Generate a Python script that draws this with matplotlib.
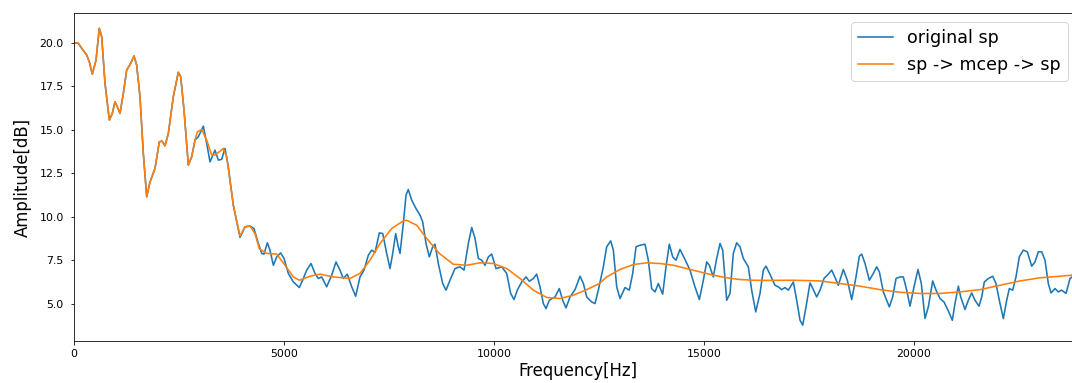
import matplotlib
matplotlib.use("Agg")
import matplotlib.pyplot as plt

# ---- data: original spectral envelope (blue) ----
orig_freq = [0, 107, 188, 307, 370, 441, 529, 607, 664, 743, 846, 917, 981, 1036, 1100, 1179, 1259, 1355, 1433, 1497,
             1576, 1655, 1736, 1814, 1933, 2036, 2100, 2171, 2251, 2369, 2488, 2545, 2624, 2727, 2807, 2886,
             2965, 3084, 3164, 3243, 3362, 3441, 3520, 3600, 3679, 3798, 3957, 4076, 4195, 4290, 4394, 4474, 4529,
             4608, 4671, 4751, 4831, 4926, 5005, 5108, 5227, 5370, 5465, 5545, 5648, 5743, 5822, 5902, 6021, 6140,
             6243, 6338, 6417, 6512, 6617, 6712, 6814, 6910, 7013, 7093, 7172, 7275, 7355, 7450, 7529, 7593, 7664,
             7726, 7767, 7846, 7910, 7964, 8045, 8147, 8243, 8307, 8386, 8465, 8545, 8600, 8679, 8784, 8862, 8957,
             9076, 9195, 9291, 9394, 9474, 9553, 9632, 9712, 9791, 9870, 9950, 10053, 10188, 10307, 10402, 10481,
             10560, 10664, 10767, 10846, 10941, 11021, 11100, 11179, 11243, 11322, 11457, 11560, 11641, 11719,
             11815, 11934, 12053, 12133, 12212, 12331, 12410, 12489, 12608, 12688, 12783, 12846, 12926, 13005,
             13124, 13227, 13307, 13386, 13481, 13600, 13679, 13759, 13838, 13917, 14021, 14100, 14179, 14260,
             14338, 14433, 14552, 14671, 14790, 14894, 14989, 15069, 15132, 15227, 15307, 15386, 15450, 15545,
             15624, 15703, 15783, 15862, 15941, 16060, 16140, 16236, 16338, 16417, 16481, 16576, 16695, 16774,
             16854, 16933, 17013, 17132, 17212, 17291, 17355, 17434, 17529, 17608, 17688, 17767, 17862, 17964,
             18045, 18124, 18203, 18322, 18417, 18522, 18624, 18703, 18760, 18839, 18941, 19036, 19117, 19180,
             19275, 19417, 19497, 19577, 19672, 19751, 19831, 19910, 20005, 20100, 20179, 20267, 20346, 20450,
             20529, 20624, 20719, 20822, 20917, 20981, 21060, 21117, 21219, 21298, 21378, 21457, 21553, 21617,
             21679, 21775, 21879, 21957, 22036, 22132, 22212, 22274, 22355, 22433, 22512, 22608, 22703, 22807,
             22886, 22965, 23045, 23124, 23203, 23267, 23362, 23441, 23521, 23624, 23719, 23800, 24000]
orig_db = [20.0, 19.97, 19.68, 19.29, 18.9, 18.2, 19.0, 20.83, 20.35, 17.67, 15.56, 15.94, 16.61, 16.32, 15.94, 17.09,
           18.43, 18.82, 19.24, 18.72, 16.9, 13.64, 11.15, 12.0, 12.78, 14.31, 14.35, 14.08, 14.79, 16.9, 18.3, 18.05,
           16.13, 12.97, 13.45, 14.41,
           14.6, 15.21, 14.22, 13.16, 13.83, 13.26, 13.3, 13.93, 12.87, 10.67, 8.82, 9.43, 9.47, 9.33, 8.47, 7.9, 7.86,
           8.51, 8.09, 7.22, 7.7, 7.93, 7.61, 6.75, 6.26, 5.94, 6.46, 6.94, 7.32, 6.75, 6.46, 6.55, 5.98, 6.65,
           7.41, 6.94, 6.46, 6.71, 5.98, 5.44, 6.55, 6.94, 7.8, 8.09, 7.95, 9.08, 9.04, 7.9, 7.03, 7.9, 9.04,
           8.28, 7.9, 9.62, 11.25, 11.57, 10.96, 10.48, 10.1, 9.71, 8.47, 7.7, 8.28, 8.43, 7.32, 6.17, 5.79, 6.36,
           7.03, 7.13, 6.94, 8.47, 9.39, 8.76, 7.61, 7.51, 7.22, 7.7, 7.86, 7.03, 7.13, 6.75, 5.6, 5.25,
           5.79, 6.26, 6.55, 6.3, 6.46, 6.71, 5.98, 5.02, 4.73, 5.21, 5.4, 5.88, 5.21, 4.77,
           5.4, 5.82, 6.59, 6.17, 5.4, 5.11, 5.02, 5.79, 7.13, 8.28, 8.62, 8.09, 5.98, 5.31,
           5.94, 5.79, 6.75, 8.28, 8.37, 8.43, 7.51, 5.88, 5.69, 6.17, 5.56, 7.13, 8.43, 7.7,
           7.51, 8.13, 7.55, 6.94, 5.98, 5.25, 6.36, 7.41, 7.22, 6.55, 7.61, 8.47, 8.09, 5.21,
           5.6, 7.9, 8.51, 8.28, 7.61, 7.13, 5.79, 4.54, 5.6, 6.94, 7.17, 6.7, 6.07, 5.98,
           5.82, 5.94, 5.79, 6.26, 5.21, 4.06, 3.78, 4.83, 6.21, 5.82, 5.4, 5.79, 6.46, 6.71,
           6.94, 6.52, 6.07, 6.98, 6.36, 5.25, 6.55, 7.74, 7.86, 7.32, 6.36, 6.75, 7.13, 6.84,
           5.69, 4.83, 5.4, 6.46, 6.55, 6.55, 5.79, 4.87, 5.98, 6.98, 6.17, 4.16, 4.83, 6.32,
           5.79, 5.31, 5.11, 4.6, 4.06, 5.02, 6.02, 5.4, 4.68, 5.21, 5.63, 5.21, 4.87, 5.4,
           6.26, 6.46, 6.59, 6.17, 5.21, 4.16, 5.21, 5.88, 5.79, 6.55, 7.7, 8.09, 7.99, 7.17,
           7.41, 7.99, 7.99, 7.51, 6.17, 5.63, 5.88, 5.69, 5.79, 5.6, 6.46, 6.6, 6.6]

# ---- data: sp -> mcep -> sp reconstruction (orange) ----
mcep_freq = [0, 107, 188, 307, 370, 441, 529, 607, 664, 743, 846, 917, 981, 1036, 1100, 1179, 1259, 1355, 1433, 1497,
             1576, 1655, 1736, 1814, 1933, 2036, 2100, 2171, 2251, 2369, 2488, 2545, 2624, 2727, 2807, 2886,
             2941, 3045, 3164, 3283, 3362, 3465, 3560, 3640, 3700, 3798, 3957, 4076, 4195, 4314, 4417, 4592, 4831,
             5029, 5227, 5370, 5624, 5862, 6179, 6576, 6814, 7052, 7291, 7569, 7846, 7926, 8164, 8402, 8703, 9036,
             9355, 9672, 9989, 10307, 10624, 10941, 11259, 11576, 11893, 12212, 12513, 12688, 13005, 13322, 13640,
             13957, 14274, 14591, 14909, 15227, 15545, 15862, 16180, 16498, 17132, 17767, 18243, 18719, 19195,
             19672, 20148, 20624, 21100, 21576, 22052, 22529, 23005, 23481, 23767, 24000]
mcep_db = [20.0, 19.97, 19.68, 19.29, 18.9, 18.2, 19.0, 20.83, 20.35, 17.67, 15.56, 15.94, 16.61, 16.32, 15.94, 17.09,
           18.43, 18.82, 19.24, 18.72, 16.9, 13.64, 11.15, 12.0, 12.78, 14.31, 14.35, 14.08, 14.79, 16.9, 18.3, 18.05,
           16.13, 12.97, 13.45, 14.41,
           14.88, 15.02, 14.41, 13.55, 13.55, 13.74, 13.93, 13.45, 12.4, 10.67, 8.9, 9.43, 9.47, 9.04, 8.17, 7.9, 7.86,
           7.22, 6.55, 6.36, 6.59, 6.71, 6.55, 6.46, 6.75, 7.51, 8.47, 9.33, 9.77, 9.8, 9.52, 8.76, 7.9, 7.28,
           7.22, 7.36, 7.32, 7.03, 6.46, 5.79, 5.37, 5.31, 5.5, 5.82, 6.17, 6.55, 6.98, 7.26, 7.36,
           7.32, 7.22, 7.03, 6.84, 6.65, 6.5, 6.4, 6.36, 6.35, 6.36, 6.32, 6.17, 6.02, 5.82,
           5.67, 5.6, 5.6, 5.69, 5.82, 6.07, 6.32, 6.5, 6.59, 6.65, 6.7]

series_labels = ["original sp", "sp -> mcep -> sp"]

DPI = 72
fig = plt.figure(figsize=(1072 / DPI, 383 / DPI), dpi=DPI)
ax = fig.add_axes([73.8 / 1072, 1 - 341 / 383, (1081.8 - 73.8) / 1072, (341 - 13.3) / 383])

ax.plot(orig_freq, orig_db, color="#1f77b4", lw=1.6, label=series_labels[0])
ax.plot(mcep_freq, mcep_db, color="#ff7f0e", lw=1.6, label=series_labels[1])

ax.set_xlim(0, 24000)
ax.set_ylim(2.87, 21.69)
ax.set_yticks([5.0, 7.5, 10.0, 12.5, 15.0, 17.5, 20.0])
ax.tick_params(axis="y", labelsize=11, pad=6.5)
ax.tick_params(axis="x", labelsize=11, pad=4.5)
ax.set_xlabel("Frequency[Hz]", fontsize=16.5, labelpad=3)
ax.set_ylabel("Amplitude[dB]", fontsize=16.5, labelpad=8)
ax.legend(loc="upper right", fontsize=17.5, borderaxespad=0,
          bbox_to_anchor=(1068 / 1072, 1 - 22 / 383), bbox_transform=fig.transFigure)

fig.savefig("out.png", dpi=DPI)
